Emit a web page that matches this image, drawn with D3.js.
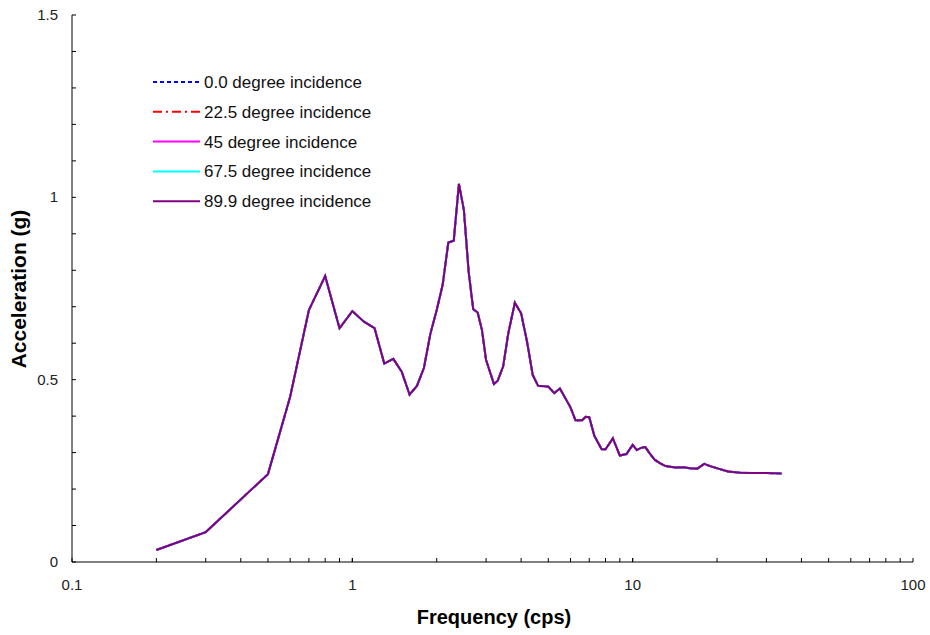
<!DOCTYPE html>
<html>
<head>
<meta charset="utf-8">
<script src="https://cdn.jsdelivr.net/npm/d3@7"></script>
<style>
  body { margin: 0; background: #fff; }
  text { font-family: "Liberation Sans", Arial, sans-serif; }
</style>
</head>
<body>
<div id="chart"></div>
<script>
var width = 930,
    height = 635;

// frequencies (cps)
var freq = [0.2, 0.3, 0.5, 0.6, 0.7, 0.8, 0.9, 1.0, 1.1, 1.2, 1.3, 1.4, 1.5, 1.6, 1.7, 1.8, 1.9, 2.0,
            2.1, 2.2, 2.3, 2.4, 2.5, 2.6, 2.7, 2.8, 2.9, 3.0, 3.2, 3.3, 3.45, 3.6, 3.8, 4.0, 4.2, 4.4,
            4.6, 5.0, 5.25, 5.5, 6.0, 6.25, 6.6, 6.8, 7.0, 7.3, 7.75, 8.0, 8.5, 9.0, 9.5, 10.0,
            10.35, 10.7, 11.1, 11.5, 12.0, 12.5, 13.1, 14.2, 15.2, 16.0, 17.0, 18.0, 18.9, 20.2,
            21.9, 24.2, 26.9, 30.0, 34.0];

// acceleration (g), all five incidences sit on the same curve
var accel = [0.033, 0.082, 0.241, 0.453, 0.691, 0.784, 0.641, 0.688, 0.659, 0.641, 0.544, 0.557, 0.522, 0.459, 0.483, 0.532, 0.627, 0.691,
             0.760, 0.876, 0.881, 1.037, 0.965, 0.795, 0.693, 0.684, 0.636, 0.554, 0.488, 0.497, 0.536, 0.627, 0.711, 0.682, 0.604, 0.513,
             0.483, 0.481, 0.463, 0.476, 0.424, 0.389, 0.389, 0.398, 0.397, 0.346, 0.309, 0.309, 0.339, 0.292, 0.296, 0.321,
             0.307, 0.313, 0.315, 0.298, 0.280, 0.271, 0.263, 0.259, 0.260, 0.257, 0.256, 0.269, 0.263, 0.256,
             0.248, 0.245, 0.244, 0.244, 0.243];

var seriesNames = ["0.0 degree incidence", "22.5 degree incidence", "45 degree incidence",
                   "67.5 degree incidence", "89.9 degree incidence"];
var seriesColors = ["#0000ff", "#ff0000", "#ff00ff", "#00ffff", "#800080"];
var seriesDash = ["4,3", "9,4,2,4", null, null, null];

var xTickLabels = [0.1, 1, 10, 100];
var yTickLabels = [0, 0.5, 1, 1.5];

var svg = d3.select("#chart")
    .append("svg")
    .attr("width", width)
    .attr("height", height);

var x = d3.scaleLog().domain([0.1, 100]).range([72, 913]);
var y = d3.scaleLinear().domain([0, 1.5]).range([562, 15]);

// minor ticks, drawn inward
var xMinor = [];
[0.1, 1, 10].forEach(function(d) {
  for (var k = 1; k <= 10; k++) xMinor.push(d * k);
});
svg.append("g")
    .selectAll("line")
    .data(xMinor)
    .enter().append("line")
    .attr("x1", function(d) { return x(d); })
    .attr("x2", function(d) { return x(d); })
    .attr("y1", y(0))
    .attr("y2", y(0) - 4)
    .attr("stroke", "#000");

svg.append("g")
    .selectAll("line")
    .data(d3.range(0, 16).map(function(i) { return i / 10; }))
    .enter().append("line")
    .attr("x1", x(0.1))
    .attr("x2", x(0.1) + 4)
    .attr("y1", function(d) { return y(d); })
    .attr("y2", function(d) { return y(d); })
    .attr("stroke", "#000");

// axis lines
svg.append("line")
    .attr("x1", x(0.1)).attr("x2", x(100))
    .attr("y1", y(0)).attr("y2", y(0))
    .attr("stroke", "#000");
svg.append("line")
    .attr("x1", x(0.1)).attr("x2", x(0.1))
    .attr("y1", y(0)).attr("y2", y(1.5))
    .attr("stroke", "#000");

// tick labels
svg.append("g")
    .selectAll("text")
    .data(xTickLabels)
    .enter().append("text")
    .attr("x", function(d) { return x(d); })
    .attr("y", 590)
    .attr("text-anchor", "middle")
    .attr("font-size", 15)
    .attr("fill", "#222")
    .text(function(d) { return d; });

svg.append("g")
    .selectAll("text")
    .data(yTickLabels)
    .enter().append("text")
    .attr("x", 58)
    .attr("y", function(d) { return y(d) + 5; })
    .attr("text-anchor", "end")
    .attr("font-size", 15)
    .attr("fill", "#222")
    .text(function(d) { return d; });

// axis titles
svg.append("text")
    .attr("x", 494)
    .attr("y", 624)
    .attr("text-anchor", "middle")
    .attr("font-size", 20)
    .attr("font-weight", "bold")
    .text("Frequency (cps)");

svg.append("text")
    .attr("transform", "translate(26,289) rotate(-90)")
    .attr("text-anchor", "middle")
    .attr("font-size", 21)
    .attr("font-weight", "bold")
    .text("Acceleration (g)");

// curves
var line = d3.line()
    .x(function(d, i) { return x(freq[i]); })
    .y(function(d) { return y(d); });

seriesNames.forEach(function(name, s) {
  svg.append("path")
      .attr("d", line(accel))
      .attr("fill", "none")
      .attr("stroke", seriesColors[s])
      .attr("stroke-width", 2)
      .attr("stroke-dasharray", seriesDash[s]);
});

// legend
var legend = svg.append("g")
    .selectAll("g")
    .data(seriesNames)
    .enter().append("g")
    .attr("transform", function(d, i) { return "translate(153," + (82 + i * 29.8) + ")"; });

legend.append("line")
    .attr("x1", 0).attr("x2", 47)
    .attr("stroke", function(d, i) { return seriesColors[i]; })
    .attr("stroke-width", 2)
    .attr("stroke-dasharray", function(d, i) { return seriesDash[i]; });

legend.append("text")
    .attr("x", 51)
    .attr("y", 6)
    .attr("font-size", 17)
    .attr("fill", "#111")
    .text(function(d) { return d; });
</script>
</body>
</html>
